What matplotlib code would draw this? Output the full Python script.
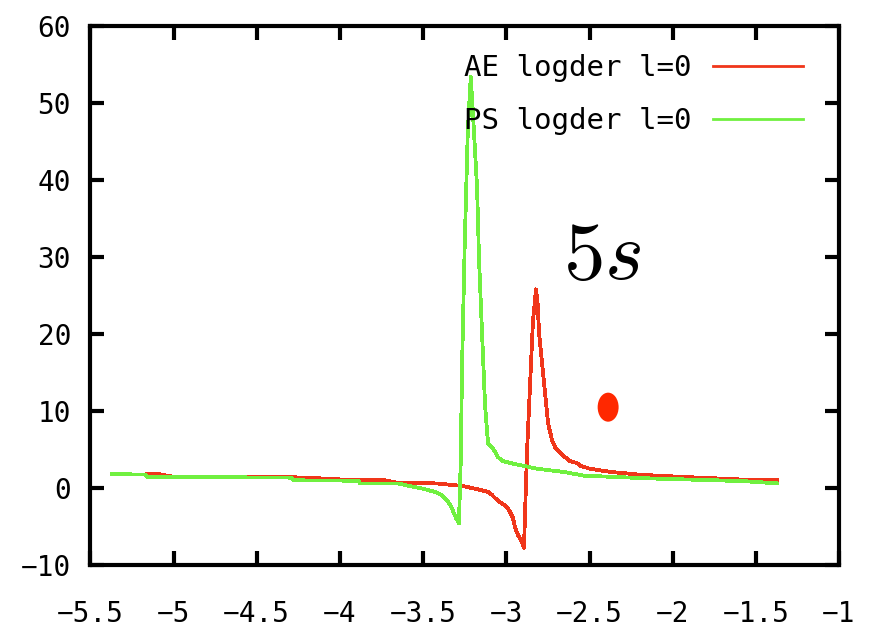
import matplotlib
matplotlib.use('Agg')
import matplotlib.pyplot as plt
from matplotlib.patches import Ellipse

# AE logder l=0 (rouge)
ae_x = [-5.16, -5.09, -5.0, -4.29, -4.21, -3.89, -3.73, -3.65, -3.42, -3.26,
        -3.18, -3.11, -3.086, -3.068, -3.04, -3.02, -2.996, -2.978, -2.96,
        -2.948, -2.93, -2.906, -2.894, -2.876, -2.858, -2.84, -2.822, -2.812,
        -2.803, -2.785, -2.767, -2.749, -2.725, -2.707, -2.689, -2.665, -2.647,
        -2.617, -2.575, -2.557, -2.497, -2.377, -2.18, -1.895, -1.475, -1.37]
ae_y = [1.8, 1.8, 1.45, 1.4, 1.35, 1.0, 1.0, 0.65, 0.6, 0.26,
        -0.13, -0.5, -0.9, -1.3, -1.8, -2.1, -2.5, -3.1, -3.9,
        -5.1, -6.1, -7.0, -7.8, 4.5, 13.1, 21.6, 25.8, 24.0,
        20.1, 16.2, 12.3, 8.4, 6.2, 5.3, 4.9, 4.4, 4.0,
        3.5, 3.25, 2.9, 2.5, 2.1, 1.7, 1.4, 1.0, 1.0]

# PS logder l=0 (vert)
ps_x = [-5.37, -5.17, -5.16, -4.29, -4.28, -3.89, -3.88, -3.65, -3.58, -3.50,
        -3.43, -3.39, -3.36, -3.34, -3.32, -3.30, -3.285, -3.275, -3.265,
        -3.250, -3.232, -3.214, -3.200, -3.176, -3.164, -3.146, -3.128, -3.110,
        -3.086, -3.068, -3.050, -3.020, -2.966, -2.900, -2.815, -2.659, -2.53,
        -2.14, -1.58, -1.37]
ps_y = [1.8, 1.75, 1.45, 1.35, 1.0, 0.95, 0.6, 0.6, 0.25, -0.1,
        -0.5, -0.9, -1.5, -2.1, -3.0, -4.0, -4.6, 2.7, 17.0,
        31.8, 46.1, 53.4, 48.4, 39.1, 29.6, 20.1, 10.8, 5.8,
        5.3, 4.7, 4.0, 3.5, 3.2, 2.9, 2.5, 2.1, 1.6,
        1.25, 0.9, 0.6]

# point isolé
dot_x, dot_y = -2.388, 10.5

x_ticks = [-5.5, -5, -4.5, -4, -3.5, -3, -2.5, -2, -1.5, -1]
x_labels = ['-5.5', '-5', '-4.5', '-4', '-3.5', '-3', '-2.5', '-2', '-1.5', '-1']
y_ticks = [-10, 0, 10, 20, 30, 40, 50, 60]

plt.rcParams['font.family'] = ['DejaVu Sans Mono']
plt.rcParams['mathtext.fontset'] = 'cm'

fig = plt.figure(figsize=(8.69, 6.35), dpi=100)
ax = fig.add_axes([0.1041, 0.1102, 0.8614, 0.8488])

ax.plot(ae_x, ae_y, color='#f0361a', lw=2, antialiased=False, label='AE logder l=0')
ax.plot(ps_x, ps_y, color='#70f040', lw=2, antialiased=False, label='PS logder l=0')

ax.add_patch(Ellipse((dot_x, dot_y), 0.126, 3.77, color='#ff2800', lw=0))
ax.text(-2.425, 27.2, r'$5s$', fontsize=60, ha='center', va='baseline')

ax.set_xlim(-5.5, -1)
ax.set_ylim(-10, 60)
ax.set_xticks(x_ticks)
ax.set_xticklabels([l.replace('-', '\u2212') for l in x_labels])
ax.set_yticks(y_ticks)
ax.set_yticklabels([str(v).replace('-', '\u2212') for v in y_ticks])

for s in ax.spines.values():
    s.set_linewidth(3)
ax.tick_params(direction='in', length=10, width=3, top=True, right=True,
               labelsize=20)
ax.tick_params(axis='x', pad=25)
ax.tick_params(axis='y', pad=14)

ax.legend(loc='upper right', bbox_to_anchor=(0.952, 0.948), frameon=False,
          markerfirst=False, fontsize=21, handlelength=3.1, handletextpad=0.72,
          labelspacing=0.85, borderpad=0, borderaxespad=0)

fig.savefig('out.png', dpi=100)
